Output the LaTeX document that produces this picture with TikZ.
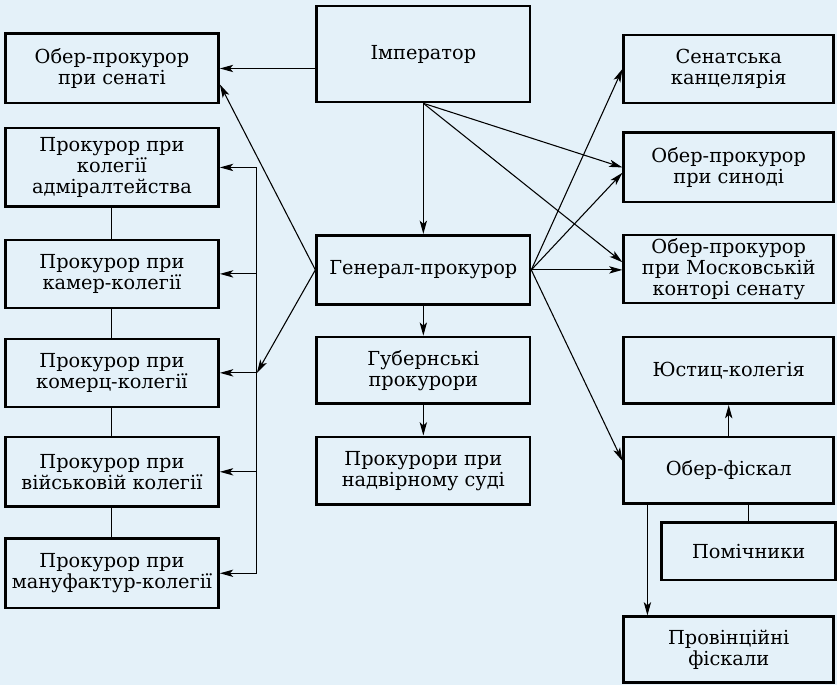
\documentclass[tikz,border=0pt]{standalone}
\usepackage{fontspec}
\setmainfont{DejaVu Serif}
\usetikzlibrary{arrows.meta}
\definecolor{bgblue}{RGB}{228,241,249}

\begin{document}
\begin{tikzpicture}[x=0.75pt,y=-0.75pt]
        \def\boxw{160pt}
        \tikzstyle{office}=[draw=black, line width=2pt, minimum width=\boxw, minimum height=51pt, align=center, inner sep=1pt, font=\fontsize{14.5}{15.8}\selectfont]
        \tikzstyle{link}=[line width=0.8pt]
        \tikzstyle{arr}=[link, -{Stealth[length=10pt,width=5.5pt,inset=2.5pt]}]

        \fill[bgblue] (0,0) rectangle (837,685);

        \node[office, minimum height=72pt] (imp) at (423.5,54) {Імператор};
        \node[office, minimum height=52pt] (senat) at (112,68.5) {Обер-прокурор\\при сенаті};
        \node[office, minimum height=59pt] (adm) at (112,167.5) {Прокурор при\\колегії\\адміралтейства};
        \node[office] (kamer) at (112,274) {Прокурор при\\камер-колегії};
        \node[office] (komerz) at (112,373) {Прокурор при\\комерц-колегії};
        \node[office, minimum height=52pt] (viysk) at (112,472) {Прокурор при\\військовій колегії};
        \node[office, minimum height=52pt] (manuf) at (112,573.5) {Прокурор при\\мануфактур-колегії};

        \node[office, minimum height=52pt] (gen) at (423.5,270) {Генерал-прокурор};
        \node[office, minimum height=50pt] (gub) at (423.5,370.5) {Губернські\\прокурори};
        \node[office] (nadv) at (423.5,471) {Прокурори при\\надвірному суді};

        \node[office, minimum width=157.5pt] (kanc) at (729,69) {Сенатська\\канцелярія};
        \node[office, minimum width=157.5pt, minimum height=52pt] (synod) at (729,167.5) {Обер-прокурор\\при синоді};
        \node[office, minimum width=157.5pt] (mosk) at (729,269) {Обер-прокурор\\при Московській\\конторі сенату};
        \node[office, minimum width=157.5pt, minimum height=50pt] (just) at (729,370.5) {Юстиц-колегія};
        \node[office, minimum width=157.5pt, minimum height=50pt] (fisk) at (729,470.5) {Обер-фіскал};
        \node[office, minimum width=130.5pt, minimum height=43pt] (pomich) at (749,551.5) {Помічники};
        \node[office, minimum width=157.5pt, minimum height=49.5pt] (provin) at (729,650) {Провінційні\\фіскали};

        \coordinate (bus) at (257,0);

        \draw[arr] (imp.west |- senat.east) -- (senat.east);
        \draw[arr] (gen.west) -- ([yshift=-12pt]senat.east);
        \draw[arr] (gen.west) -- (komerz.east -| bus);
        \draw[link] (adm.east -| bus) -- (manuf.east -| bus);
        \foreach \name in {adm,kamer,komerz,viysk,manuf}
            \draw[arr] (\name.east -| bus) -- (\name.east);
        \foreach \upper/\lower in {adm/kamer,kamer/komerz,komerz/viysk,viysk/manuf}
            \draw[link] (\upper.south) -- (\lower.north);

        \draw[arr] (imp.south) -- (gen.north);
        \draw[arr] (imp.south) -- (synod.west);
        \draw[arr] (imp.south) -- ([yshift=5pt]mosk.west);
        \draw[arr] (gen.east) -- (kanc.west);
        \draw[arr] (gen.east) -- ([yshift=-4pt]synod.west);
        \draw[arr] (gen.east) -- (gen.east -| mosk.west);
        \draw[arr] (gen.east) -- ([yshift=7pt]fisk.west);
        \draw[arr] (gen.south) -- (gub.north);
        \draw[arr] (gub.south) -- (nadv.north);

        \draw[arr] (fisk.north) -- (just.south);
        \draw[link] (fisk.south -| pomich.north) -- (pomich.north);
        \draw[arr] ([xshift=-61pt]fisk.south) -- ([xshift=-61pt]provin.north);
    \end{tikzpicture}
\end{document}
